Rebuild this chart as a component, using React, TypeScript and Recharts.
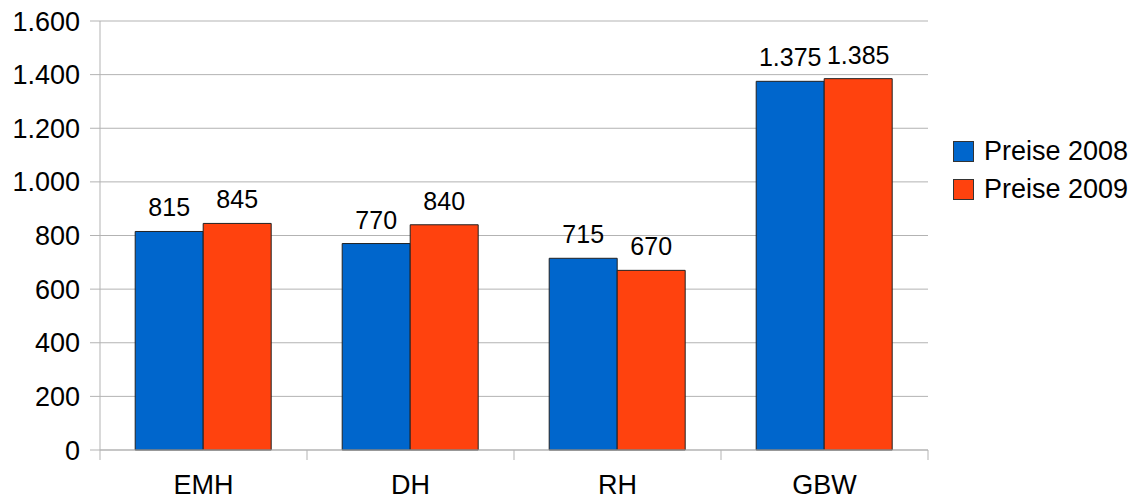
import { Bar, BarChart, CartesianGrid, LabelList, XAxis, YAxis } from "recharts";

const categories = ["EMH", "DH", "RH", "GBW"];
const preise2008 = [815, 770, 715, 1375];
const preise2009 = [845, 840, 670, 1385];
const yTicks = [0, 200, 400, 600, 800, 1000, 1200, 1400, 1600];

const seriesNames = ["Preise 2008", "Preise 2009"];
const blue = "#0066cc";
const orange = "#ff420e";
const gridGray = "#b3b3b3";
const font = "'Liberation Sans', Arial, sans-serif";
const axisFs = 27;
const labelFs = 25;

const data = categories.map((name, i) => ({
  name,
  p2008: preise2008[i],
  p2009: preise2009[i],
}));

// german thousands separator
const fmt = (v: number | string) =>
  String(v).replace(/\B(?=(\d{3})+(?!\d))/g, ".");

function CategoryTick(props: any) {
  const { x, y, payload, index, visibleTicksCount } = props;
  const half = payload?.offset ?? 0;
  const isLast = index === visibleTicksCount - 1;
  return (
    <g>
      <line x1={x - half} x2={x - half} y1={y - 10} y2={y} stroke={gridGray} />
      {isLast && (
        <line x1={x + half} x2={x + half} y1={y - 10} y2={y} stroke={gridGray} />
      )}
      <text
        x={x}
        y={y + 15}
        dy="0.71em"
        textAnchor="middle"
        fill="#000"
        fontSize={axisFs}
        fontFamily={font}
      >
        {payload.value}
      </text>
    </g>
  );
}

function LegendBox() {
  const colors = [blue, orange];
  return (
    <div
      style={{
        position: "absolute",
        left: 953,
        top: 133,
        fontFamily: font,
        fontSize: axisFs,
        color: "#000",
      }}
    >
      {seriesNames.map((name, i) => (
        <div
          key={name}
          style={{ display: "flex", alignItems: "center", height: 37.5 }}
        >
          <span
            style={{
              display: "inline-block",
              width: 19,
              height: 19,
              background: colors[i],
              border: "1px solid #333",
              marginRight: 10,
            }}
          />
          {name}
        </div>
      ))}
    </div>
  );
}

export default function App() {
  return (
    <div
      style={{
        position: "absolute",
        left: 0,
        top: 0,
        width: 1144,
        height: 499,
        background: "#fff",
      }}
    >
      <BarChart
        width={1144}
        height={499}
        data={data}
        margin={{ top: 21, right: 216, bottom: 9, left: 0 }}
        barCategoryGap="17%"
        barGap={0}
      >
        <CartesianGrid vertical={false} stroke={gridGray} />
        <XAxis
          dataKey="name"
          stroke={gridGray}
          height={40}
          tickLine={false}
          tickSize={10}
          tickMargin={0}
          tick={<CategoryTick />}
          interval={0}
        />
        <YAxis
          domain={[0, 1600]}
          ticks={yTicks}
          width={100}
          stroke={gridGray}
          tickSize={10}
          tickMargin={10}
          tickFormatter={fmt}
          tick={{ fill: "#000", fontSize: axisFs, fontFamily: font }}
        />
        <Bar
          dataKey="p2008"
          name={seriesNames[0]}
          fill={blue}
          stroke="#222"
          strokeWidth={1}
          isAnimationActive={false}
        >
          <LabelList
            dataKey="p2008"
            position="top"
            offset={15}
            formatter={fmt}
            fill="#000"
            fontSize={labelFs}
            fontFamily={font}
          />
        </Bar>
        <Bar
          dataKey="p2009"
          name={seriesNames[1]}
          fill={orange}
          stroke="#222"
          strokeWidth={1}
          isAnimationActive={false}
        >
          <LabelList
            dataKey="p2009"
            position="top"
            offset={15}
            formatter={fmt}
            fill="#000"
            fontSize={labelFs}
            fontFamily={font}
          />
        </Bar>
      </BarChart>
      <LegendBox />
    </div>
  );
}
